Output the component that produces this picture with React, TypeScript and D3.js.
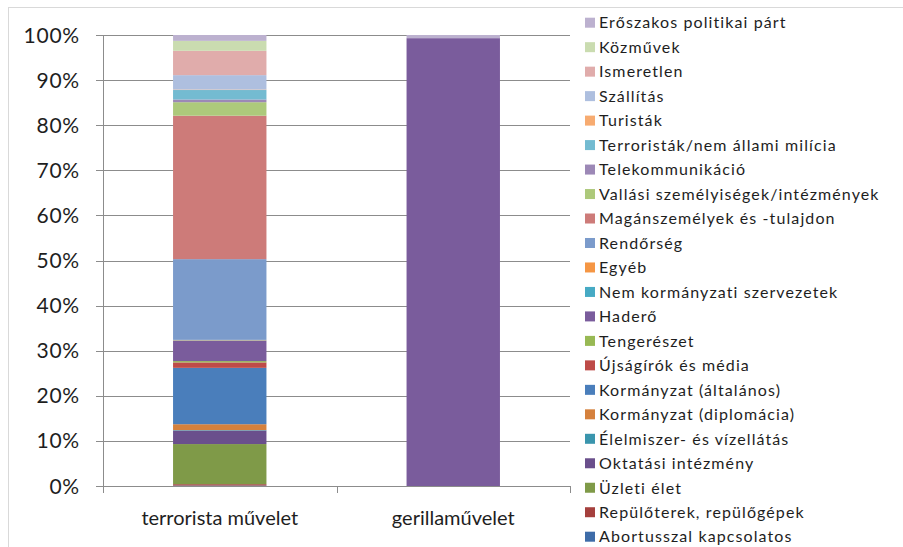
import React from 'react';
import * as d3 from 'd3';

// categories on the x axis
const categories = ['terrorista művelet', 'gerillaművelet'];

// series, bottom of the stack first
const seriesNames = [
  'Abortusszal kapcsolatos',
  'Repülőterek, repülőgépek',
  'Üzleti élet',
  'Oktatási intézmény',
  'Élelmiszer- és vízellátás',
  'Kormányzat (diplomácia)',
  'Kormányzat (általános)',
  'Újságírók és média',
  'Tengerészet',
  'Haderő',
  'Nem kormányzati szervezetek',
  'Egyéb',
  'Rendőrség',
  'Magánszemélyek és -tulajdon',
  'Vallási személyiségek/intézmények',
  'Telekommunikáció',
  'Terroristák/nem állami milícia',
  'Turisták',
  'Szállítás',
  'Ismeretlen',
  'Közművek',
  'Erőszakos politikai párt',
];

const seriesColors = [
  '#3e6ca8', '#a5403d', '#7f9a48', '#6a4f8c', '#3a95ad', '#d5813d',
  '#4a7ebb', '#be4b48', '#98b954', '#7a5c9c', '#46aac4', '#f59644',
  '#7b9bcb', '#cd7b79', '#adc97b', '#9c88b6', '#74bbd1', '#f7ab70',
  '#aebfdf', '#e0acab', '#cadcb0', '#bcb1cf',
];

// share (%) per series, same order as seriesNames
const terroristaValues = [
  0.1, 0.3, 8.9, 3.0, 0.1, 1.3, 12.5, 1.2, 0.3, 4.5, 0.1, 0.1,
  17.9, 31.8, 3.0, 0.6, 2.1, 0.1, 3.2, 5.4, 2.2, 1.3,
];
const gerillaValues = [
  0, 0, 0, 0, 0, 0, 0, 0, 0, 99.3, 0, 0,
  0, 0, 0, 0, 0, 0, 0, 0, 0, 0.7,
];

const yTicks = [0, 0.1, 0.2, 0.3, 0.4, 0.5, 0.6, 0.7, 0.8, 0.9, 1];

const W = 903;
const H = 547;
const FONT = 'Lato, "Open Sans", sans-serif';

export default function App() {
  const plot = { left: 103, right: 570, top: 35, bottom: 486 };

  const x = d3.scaleBand<string>()
    .domain(categories)
    .range([plot.left, plot.right])
    .paddingInner(0.6)
    .paddingOuter(0.3);

  const y = d3.scaleLinear().domain([0, 1]).range([plot.bottom, plot.top]);

  const rows = categories.map((c, ci) => {
    const vals = ci === 0 ? terroristaValues : gerillaValues;
    const row: Record<string, any> = { cat: c };
    seriesNames.forEach((s, i) => { row[s] = vals[i]; });
    return row;
  });

  const stacked = d3.stack<any>()
    .keys(seriesNames)
    .offset(d3.stackOffsetExpand)(rows);

  // legend: top entry is the last series
  const legendItems = seriesNames.map((n, i) => ({ name: n, color: seriesColors[i] })).reverse();
  const legendY = d3.scaleLinear().domain([0, legendItems.length - 1]).range([22.7, 536.7]);

  const step = x.step();
  const catTicks = [plot.left, plot.left + step, plot.right];

  return (
    <svg width={W} height={H} style={{ position: 'absolute', left: 0, top: 0, background: '#fff' }}>
      <rect x={8.5} y={7.5} width={1000} height={1000} fill="#fff" stroke="#d9d9d9" />

      {/* grid */}
      {yTicks.map(t => (
        <line key={t} x1={plot.left - 7} x2={plot.right} y1={Math.round(y(t)) + 0.5} y2={Math.round(y(t)) + 0.5}
          stroke="#8c8c8c" strokeWidth={1} />
      ))}

      {/* bars */}
      {stacked.map((layer, si) => (
        <g key={layer.key} fill={seriesColors[si]}>
          {layer.map((d, ci) => {
            const h = y(d[0]) - y(d[1]);
            if (h <= 0) return null;
            return (
              <rect key={ci} x={x(categories[ci])} y={y(d[1])} width={x.bandwidth()} height={h} />
            );
          })}
        </g>
      ))}

      {/* axes */}
      <line x1={plot.left + 0.5} x2={plot.left + 0.5} y1={plot.top} y2={plot.bottom + 7} stroke="#8c8c8c" />
      <line x1={plot.left} x2={plot.right} y1={plot.bottom + 0.5} y2={plot.bottom + 0.5} stroke="#8c8c8c" />
      {catTicks.map((cx, i) => (
        <line key={i} x1={Math.round(cx) + 0.5} x2={Math.round(cx) + 0.5} y1={plot.bottom} y2={plot.bottom + 7} stroke="#8c8c8c" />
      ))}

      {/* y labels */}
      {yTicks.map(t => (
        <text key={t} x={80} y={y(t)} dy="0.36em" textAnchor="end" fontFamily={FONT} fontSize={21}
          letterSpacing={0.8} fill="#1e1e1e">
          {`${Math.round(t * 100)}%`}
        </text>
      ))}

      {/* category labels */}
      {categories.map(c => (
        <text key={c} x={(x(c) ?? 0) + x.bandwidth() / 2} y={518} dy="0.36em" textAnchor="middle"
          fontFamily={FONT} fontSize={20} fill="#1e1e1e">
          {c}
        </text>
      ))}

      {/* legend */}
      {legendItems.map((it, i) => (
        <g key={it.name} transform={`translate(585,${legendY(i)})`}>
          <rect x={0} y={-5} width={10} height={10} fill={it.color} />
          <text x={14} y={0} dy="0.36em" fontFamily={FONT} fontSize={16} letterSpacing={1.1} fill="#1e1e1e">{it.name}</text>
        </g>
      ))}
    </svg>
  );
}
